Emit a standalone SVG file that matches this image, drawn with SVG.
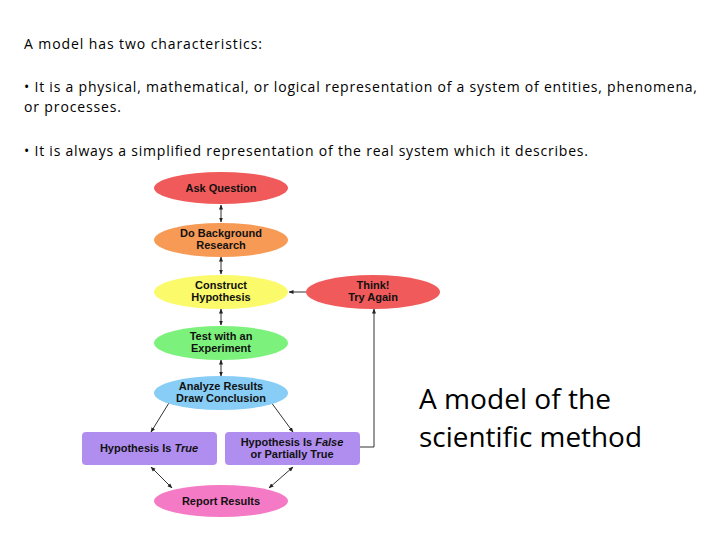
<svg xmlns="http://www.w3.org/2000/svg" width="720" height="540" viewBox="0 0 720 540">
<defs>
<style>
.h{font-family:"Open Sans","Liberation Sans",sans-serif;font-size:14px;fill:#000}
.n{font-family:"Liberation Sans",Arial,sans-serif;font-size:11px;font-weight:bold;fill:#111;text-anchor:middle}
.c{stroke:#333;stroke-width:1;fill:none}
</style>
<marker id="a" viewBox="0 0 10 10" refX="9" refY="5" markerWidth="5" markerHeight="5" orient="auto-start-reverse"><path d="M0,1L10,5L0,9z" fill="#222"/></marker>
</defs>
<rect width="720" height="540" fill="#fff"/>
<text class="h" x="24" y="49" textLength="238" lengthAdjust="spacing">A model has two characteristics:</text>
<text class="h" x="24" y="92" textLength="673" lengthAdjust="spacing">• It is a physical, mathematical, or logical representation of a system of entities, phenomena,</text>
<text class="h" x="24" y="112" textLength="97" lengthAdjust="spacing">or processes.</text>
<text class="h" x="24" y="156" textLength="564" lengthAdjust="spacing">• It is always a simplified representation of the real system which it describes.</text>
<g id="connectors" class="c">
<path d="M221,205V222" marker-start="url(#a)" marker-end="url(#a)"/>
<path d="M221,257V274" marker-start="url(#a)" marker-end="url(#a)"/>
<path d="M221,309V325" marker-start="url(#a)" marker-end="url(#a)"/>
<path d="M221,360V376" marker-start="url(#a)" marker-end="url(#a)"/>
<path d="M172,398L151,432" marker-start="url(#a)" marker-end="url(#a)"/>
<path d="M268,398L293,432" marker-start="url(#a)" marker-end="url(#a)"/>
<path d="M151,467L172,488" marker-start="url(#a)" marker-end="url(#a)"/>
<path d="M293,467L269,488" marker-start="url(#a)" marker-end="url(#a)"/>
<path d="M360,447H374V309" marker-end="url(#a)"/>
<path d="M306,292H289" marker-end="url(#a)"/>
</g>
<g id="ask"><ellipse cx="221" cy="188" rx="67" ry="16" fill="#f05a5a"/><text class="n" x="221" y="192">Ask Question</text></g>
<g id="background"><ellipse cx="221" cy="240" rx="67" ry="17" fill="#f79a55"/><text class="n" x="221" y="237">Do Background</text><text class="n" x="221" y="249">Research</text></g>
<g id="construct"><ellipse cx="221" cy="292" rx="67" ry="17" fill="#fafa6a"/><text class="n" x="221" y="289">Construct</text><text class="n" x="221" y="301">Hypothesis</text></g>
<g id="think"><ellipse cx="373" cy="292" rx="67" ry="17" fill="#f05a5a"/><text class="n" x="373" y="289">Think!</text><text class="n" x="373" y="301">Try Again</text></g>
<g id="test"><ellipse cx="221" cy="343" rx="67" ry="17" fill="#7cf27c"/><text class="n" x="221" y="340">Test with an</text><text class="n" x="221" y="352">Experiment</text></g>
<g id="analyze"><ellipse cx="221" cy="393" rx="67" ry="17" fill="#88cdf5"/><text class="n" x="221" y="390">Analyze Results</text><text class="n" x="221" y="402">Draw Conclusion</text></g>
<g id="true"><rect x="82" y="432" width="135" height="33" rx="4" fill="#b08ef0"/><text class="n" x="149" y="452">Hypothesis Is <tspan font-style="italic">True</tspan></text></g>
<g id="false"><rect x="225" y="432" width="135" height="33" rx="4" fill="#b08ef0"/><text class="n" x="292" y="446">Hypothesis Is <tspan font-style="italic">False</tspan></text><text class="n" x="292" y="458">or Partially True</text></g>
<g id="report"><ellipse cx="221" cy="501" rx="67" ry="16" fill="#f57ac5"/><text class="n" x="221" y="505">Report Results</text></g>
<text x="419" y="409" font-family="'Open Sans',sans-serif" font-size="27" fill="#000" textLength="192" lengthAdjust="spacingAndGlyphs">A model of the</text>
<text x="419" y="447" font-family="'Open Sans',sans-serif" font-size="27" fill="#000" textLength="223" lengthAdjust="spacingAndGlyphs">scientific method</text>
</svg>
